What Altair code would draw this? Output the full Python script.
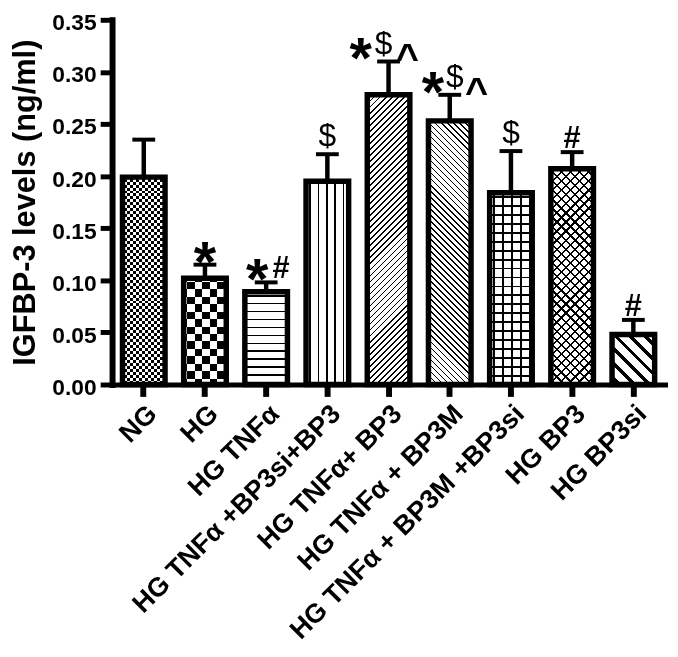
import math
import altair as alt
import pandas as pd

# ---------------- data ----------------
categories = [
    "NG",
    "HG",
    "HG TNFα",
    "HG TNFα +BP3si+BP3",
    "HG TNFα+ BP3",
    "HG TNFα + BP3M",
    "HG TNFα + BP3M +BP3si",
    "HG BP3",
    "HG BP3si",
]
means = [0.199, 0.102, 0.089, 0.195, 0.278, 0.253, 0.184, 0.207, 0.048]
errors = [0.036, 0.013, 0.009, 0.026, 0.032, 0.025, 0.040, 0.016, 0.014]
annotations = ["", "*", "*#", "$", "*$^", "*$^", "$", "#", "#"]
y_ticks = [0.00, 0.05, 0.10, 0.15, 0.20, 0.25, 0.30, 0.35]

df = pd.DataFrame({
    "idx": list(range(len(categories))),
    "cat": categories,
    "mean": means,
    "err": errors,
    "annot": annotations,
})
df["upper"] = df["mean"] + df["err"]

# ---------------- geometry (for pattern density) ----------------
W, H = 558, 368
YMAX = 0.35
P_IN, P_OUT = 0.304, 0.17
step = W / (len(categories) - P_IN + 2 * P_OUT)
BW = step * (1 - P_IN)
FONT = "Liberation Sans"


def stripe_stops(n, duty):
    out = [alt.GradientStop(offset=0, color="white")]
    i = 0
    while True:
        a = (i + (1 - duty) / 2) / n
        if a >= 1:
            break
        b = min(1.0, a + duty / n)
        for off, col in ((a, "white"), (a, "black"), (b, "black"), (b, "white")):
            out.append(alt.GradientStop(offset=round(off, 5), color=col))
        i += 1
    out.append(alt.GradientStop(offset=1, color="white"))
    return out


def horiz(h, period, duty):
    return alt.LinearGradient(gradient="linear", x1=0, y1=0, x2=0, y2=1,
                              stops=stripe_stops(max(h / period, 0.5), duty))


def vert(w, period, duty):
    return alt.LinearGradient(gradient="linear", x1=0, y1=0, x2=1, y2=0,
                              stops=stripe_stops(max(w / period, 0.5), duty))


def diag_up(w, h, period, duty):
    k = (w + h) / (w * w + h * h)
    n = (w + h) / (math.sqrt(2) * period)
    return alt.LinearGradient(gradient="linear", x1=0, y1=0,
                              x2=round(w * k, 5), y2=round(h * k, 5),
                              stops=stripe_stops(n, duty))


def diag_down(w, h, period, duty):
    k = (w + h) / (w * w + h * h)
    n = (w + h) / (math.sqrt(2) * period)
    return alt.LinearGradient(gradient="linear", x1=0, y1=1,
                              x2=round(w * k, 5), y2=round(1 - h * k, 5),
                              stops=stripe_stops(n, duty))


def bar_px(i):
    return BW, means[i] * H / YMAX


# pattern per bar: (base gradient, overlay gradient or None, blend)
def pattern(i):
    w, h = bar_px(i)
    if i == 0:   # fine checkerboard
        return horiz(h, 6, 0.5), vert(w, 6, 0.5), "difference"
    if i == 1:   # coarse checkerboard
        return horiz(h, 15, 0.5), vert(w, 15, 0.5), "difference"
    if i == 2:   # horizontal lines
        return horiz(h, 8, 0.2), None, None
    if i == 3:   # vertical lines
        return vert(w, 8.4, 0.2), None, None
    if i == 4:   # "/" fine diagonal
        return diag_up(w, h, 4.3, 0.28), None, None
    if i == 5:   # "\" fine diagonal
        return diag_down(w, h, 4.3, 0.28), None, None
    if i == 6:   # grid
        return horiz(h, 9, 0.2), vert(w, 9, 0.2), "multiply"
    if i == 7:   # zig-zag / crosshatch
        return diag_up(w, h, 6.5, 0.25), diag_down(w, h, 6.5, 0.25), "multiply"
    return diag_down(w, h, 10.6, 0.33), None, None   # thick "\"


# ---------------- encodings ----------------
x_enc = alt.X(
    "cat:N",
    sort=categories,
    scale=alt.Scale(paddingInner=P_IN, paddingOuter=P_OUT),
    axis=alt.Axis(
        title="",
        labelAngle=-45,
        labelFont=FONT,
        labelFontSize=27,
        labelFontWeight="bold",
        labelColor="black",
        labelPadding=4,
        labelLimit=600,
        domainWidth=5,
        domainColor="black",
        domainCap="square",
        tickWidth=6,
        tickColor="black",
        tickSize=12,
        grid=False,
        zindex=1,
    ),
)
y_enc = alt.Y(
    "mean:Q",
    scale=alt.Scale(domain=[0, YMAX], nice=False),
    axis=alt.Axis(
        title="IGFBP-3 levels (ng/ml)",
        values=y_ticks,
        format=".2f",
        labelFont=FONT,
        labelFontSize=23,
        labelFontWeight="bold",
        labelColor="black",
        labelPadding=4,
        labelOffset=3,
        titleFont=FONT,
        titleFontSize=31,
        titleFontWeight="bold",
        titleColor="black",
        titleAngle=270,
        titleX=-71,
        titleY=H / 2,
        titleAlign="center",
        titleBaseline="bottom",
        domainWidth=6,
        domainColor="black",
        domainCap="square",
        tickWidth=5,
        tickColor="black",
        tickSize=12,
        grid=False,
        zindex=1,
    ),
)

base = alt.Chart(df)

layers = []
# error bars (upper only)
layers.append(base.mark_rule(color="black", strokeWidth=4.5).encode(
    x=x_enc, y=y_enc, y2="upper:Q"))
layers.append(base.mark_tick(color="black", size=23, thickness=4, opacity=1).encode(
    x=x_enc, y=alt.Y("upper:Q")))

# patterned bars
for i in range(len(categories)):
    g1, g2, blend = pattern(i)
    sub = base.transform_filter(alt.datum.idx == i)
    layers.append(sub.mark_bar(fill=g1, strokeWidth=0).encode(x=x_enc, y=y_enc))
    if g2 is not None:
        layers.append(sub.mark_bar(fill=g2, strokeWidth=0, blend=blend).encode(x=x_enc, y=y_enc))

# outlines
layers.append(base.mark_bar(fill="white", fillOpacity=0, stroke="black", strokeWidth=5.5).encode(
    x=x_enc, y=y_enc))


# annotations (symbol glyph styles)
STAR = dict(dy=17, size=58, weight="bold")
HASH = dict(dy=-4, size=31, weight="bold")
DOLLAR = dict(dy=-8, size=32, weight="normal")
CARET = dict(dy=10, size=40, weight="bold")


def sym(text, idxs, dx, style):
    return base.transform_filter(
        alt.FieldOneOfPredicate(field="idx", oneOf=idxs)
    ).mark_text(
        text=text, font=FONT, fontSize=style["size"], fontWeight=style["weight"],
        color="black", align="center", baseline="alphabetic", dx=dx, dy=style["dy"],
    ).encode(x=x_enc, y=alt.Y("upper:Q"))


stars = [i for i, a in enumerate(annotations) if a == "*"]
star_hash = [i for i, a in enumerate(annotations) if a == "*#"]
dollars = [i for i, a in enumerate(annotations) if a == "$"]
hashes = [i for i, a in enumerate(annotations) if a == "#"]
triple = [i for i, a in enumerate(annotations) if a == "*$^"]

layers += [
    sym("*", stars, 0, STAR),
    sym("*", star_hash, -9, STAR),
    sym("#", star_hash, 15, HASH),
    sym("$", dollars, 0, DOLLAR),
    sym("#", hashes, 0, HASH),
    # first "*$^" group
    sym("*", triple[:1], -28, STAR),
    sym("$", triple[:1], -5, DOLLAR),
    sym("^", triple[:1], 19, CARET),
    # second "*$^" group
    sym("*", triple[1:], -17, STAR),
    sym("$", triple[1:], 5, DOLLAR),
    sym("^", triple[1:], 27, CARET),
]

chart = alt.layer(*layers).properties(
    width=W,
    height=H,
    autosize=alt.AutoSizeParams(type="none"),
    padding={"left": 105, "top": 9, "right": 5, "bottom": 265},
    background="white",
).configure_view(strokeWidth=0)

chart.save("out.html", embed_options={"renderer": "svg", "actions": False})
